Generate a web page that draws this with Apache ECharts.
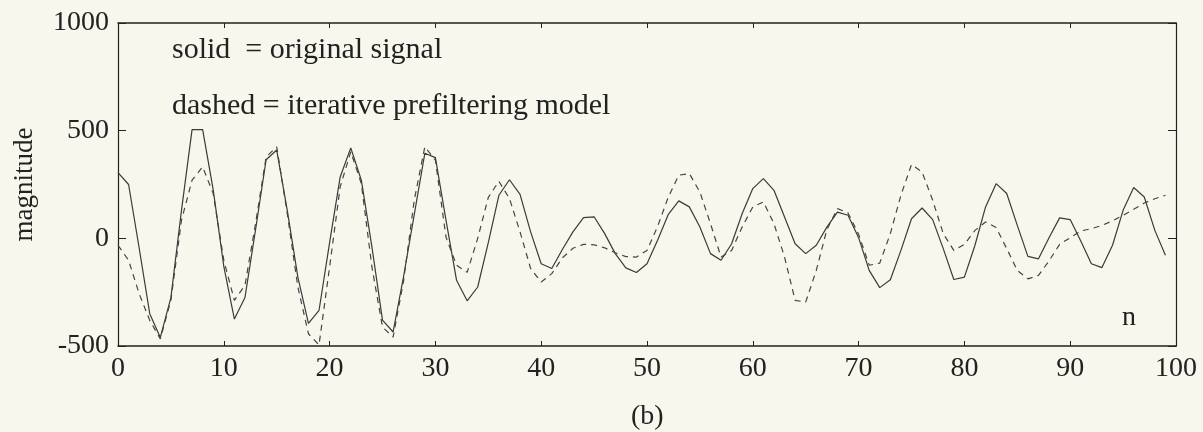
<!DOCTYPE html>
<html>
<head>
<meta charset="utf-8">
<script src="https://cdn.jsdelivr.net/npm/echarts@6/dist/echarts.min.js"></script>
<style>
  html, body { margin: 0; padding: 0; background: #f7f7ee; }
  #chart { width: 1203px; height: 432px; }
</style>
</head>
<body>
<div id="chart"></div>
<script>
// sample index n = 0..99 (array position)
const solidSignal = [
  305, 250, -45, -350, -460, -275, 130, 505, 505, 225,
  -130, -375, -275, 40, 365, 410, 130, -180, -395, -335,
  -20, 285, 420, 270, -40, -380, -435, -175, 110, 395,
  375, 85, -195, -290, -226, -20, 200, 272, 204, 30,
  -118, -140, -52, 30, 96, 100, 22, -71, -137, -159,
  -118, -9, 110, 174, 146, 53, -71, -102, -25, 115,
  231, 277, 223, 99, -25, -71, -32, 52, 122, 107,
  3, -149, -229, -192, -56, 91, 141, 87, -48, -191,
  -180, -32, 146, 254, 208, 60, -84, -95, 3, 95,
  87, -12, -118, -136, -32, 130, 236, 192, 37, -79
];

const dashedModel = [
  -32, -102, -257, -381, -467, -288, 84, 270, 332, 208,
  -102, -288, -218, 68, 378, 425, 115, -226, -443, -495,
  -133, 239, 402, 254, -133, -412, -459, -195, 177, 425,
  363, 6, -125, -158, 0, 190, 265, 185, 30, -140,
  -203, -164, -91, -46, -28, -30, -44, -67, -85, -87,
  -56, 55, 190, 293, 301, 215, 68, -87, -56, 53,
  146, 169, 68, -87, -288, -296, -149, 40, 138, 118,
  19, -125, -115, 22, 200, 343, 308, 177, 22, -56,
  -28, 37, 76, 50, -48, -149, -188, -172, -105, -28,
  3, 34, 45, 60, 81, 107, 135, 164, 184, 200
];

const xTicks = [0, 10, 20, 30, 40, 50, 60, 70, 80, 90, 100];
const yTicks = [-500, 0, 500, 1000];

const serif = "'Liberation Serif', 'Times New Roman', serif";
const ink = '#222';

const chart = echarts.init(document.getElementById('chart'));

const toPoints = arr => arr.map((v, i) => [i, v]);
const plain = v => String(v);

const option = {
  backgroundColor: '#f7f7ee',
  animation: false,
  grid: { left: 118, right: 27, top: 23, bottom: 86, containLabel: false, outerBoundsMode: 'none' },
  xAxis: [
    {
      type: 'value', min: 0, max: 100, interval: 10, position: 'bottom',
      axisLine: { show: true, onZero: false, lineStyle: { color: ink, width: 1.5 } },
      axisTick: { show: true, inside: true, length: 5, lineStyle: { color: ink } },
      axisLabel: { show: true, color: ink, fontFamily: serif, fontSize: 28, margin: 9,
        customValues: xTicks, formatter: plain },
      splitLine: { show: false }
    },
    {
      type: 'value', min: 0, max: 100, interval: 10, position: 'top',
      axisLine: { show: true, onZero: false, lineStyle: { color: ink, width: 1.5 } },
      axisTick: { show: true, inside: true, length: 5, lineStyle: { color: ink } },
      axisLabel: { show: false },
      splitLine: { show: false }
    }
  ],
  yAxis: [
    {
      type: 'value', min: -500, max: 1000, interval: 500, position: 'left',
      name: 'magnitude', nameLocation: 'middle', nameGap: 80,
      nameTextStyle: { color: ink, fontFamily: serif, fontSize: 27 },
      axisLine: { show: true, onZero: false, lineStyle: { color: ink, width: 1.2 } },
      axisTick: { show: true, inside: true, length: 8, lineStyle: { color: ink } },
      axisLabel: { color: ink, fontFamily: serif, fontSize: 28, margin: 9,
        customValues: yTicks, formatter: plain },
      splitLine: { show: false }
    },
    {
      type: 'value', min: -500, max: 1000, interval: 500, position: 'right',
      axisLine: { show: true, onZero: false, lineStyle: { color: ink, width: 1.2 } },
      axisTick: { show: true, inside: true, length: 8, lineStyle: { color: ink } },
      axisLabel: { show: false },
      splitLine: { show: false }
    }
  ],
  series: [
    {
      name: 'original signal',
      type: 'line',
      data: toPoints(solidSignal),
      symbol: 'none',
      clip: true,
      lineStyle: { color: '#3a3a3a', width: 1.2, type: 'solid' }
    },
    {
      name: 'iterative prefiltering model',
      type: 'line',
      data: toPoints(dashedModel),
      symbol: 'none',
      clip: true,
      lineStyle: { color: '#444', width: 1.2, type: [6, 5] }
    }
  ],
  graphic: [
    { type: 'text', left: 172, top: 35,
      style: { text: 'solid  = original signal', font: '30px ' + serif, fill: ink } },
    { type: 'text', left: 172, top: 91,
      style: { text: 'dashed = iterative prefiltering model', font: '30px ' + serif, fill: ink } },
    { type: 'text', left: 1122, top: 304,
      style: { text: 'n', font: '28px ' + serif, fill: ink } },
    { type: 'text', left: 631, top: 403,
      style: { text: '(b)', font: '28px ' + serif, fill: ink } }
  ]
};

chart.setOption(option);
</script>
</body>
</html>
